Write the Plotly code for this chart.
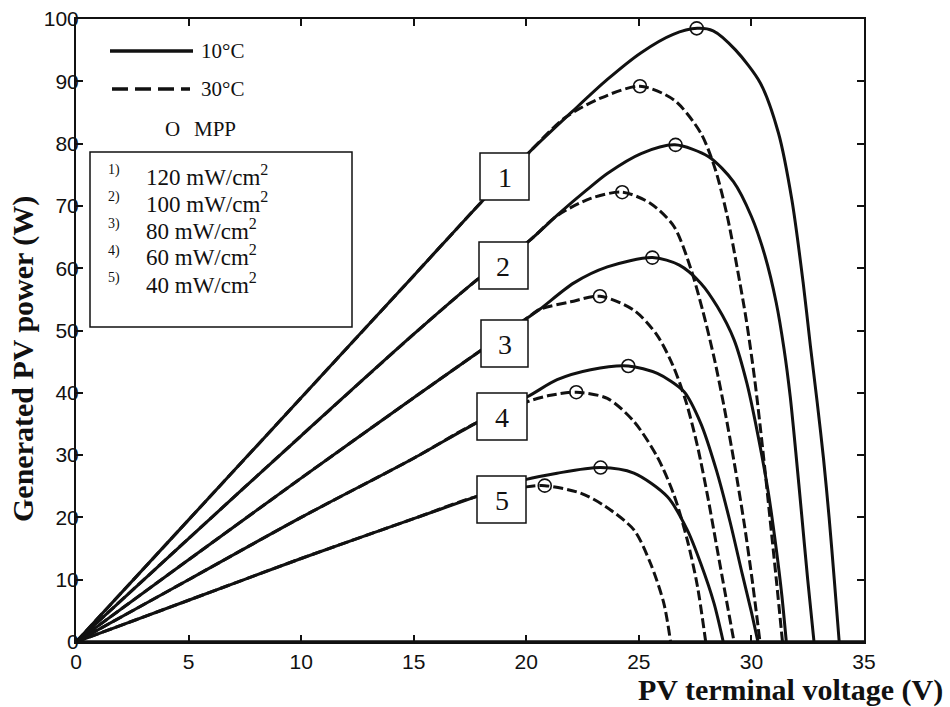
import plotly.graph_objects as go

# ---------------- data ----------------
# 10 degC (solid) curves, irradiance 1..5
v10_1 = [0, 5, 10, 15, 18, 20.1, 22.0, 23.6, 25.1, 26.5, 27.6, 28.3, 29.3, 30.4, 31.2, 31.8, 32.3, 32.62, 32.92, 33.2, 33.45, 33.68, 33.9]
p10_1 = [0, 19.6, 39.2, 58.8, 70.6, 78.5, 85.0, 90.3, 94.6, 97.5, 98.5, 98.1, 95.0, 89.7, 81.7, 70.9, 57.6, 47.5, 38.5, 29.5, 20.0, 10.0, 0]
v10_2 = [0, 5, 10, 15, 17.9, 20.1, 21.4, 22.7, 23.6, 25.1, 26.6, 28.1, 29.2, 30.0, 30.6, 31.1, 31.45, 31.72, 31.97, 32.23, 32.5, 32.78]
p10_2 = [0, 16.6, 33.1, 49.4, 58.4, 64.3, 68.6, 72.6, 75.2, 78.4, 79.8, 77.9, 73.9, 68.3, 62.0, 54.5, 47.0, 39.5, 30.5, 20.5, 10.0, 0]
v10_3 = [0, 5, 10, 15, 17.9, 20.04, 20.6, 22.1, 23.6, 25.6, 26.8, 27.75, 28.49, 29.23, 29.8, 30.3, 30.75, 31.1, 31.35, 31.55]
p10_3 = [0, 13.2, 26.3, 39.2, 46.6, 52.0, 53.4, 57.6, 60.2, 61.7, 60.5, 57.6, 53.8, 48.5, 41.5, 33.0, 24.0, 15.0, 7.5, 0]
v10_4 = [0, 5, 10, 15, 17.74, 20.07, 21.37, 22.86, 24.53, 25.82, 27.0, 27.75, 28.45, 29.05, 29.6, 30.0, 30.29]
p10_4 = [0, 10.0, 20.0, 29.5, 35.1, 39.4, 42.1, 43.7, 44.3, 43.1, 40.2, 35.1, 27.5, 19.3, 10.8, 4.8, 0]
v10_5 = [0, 5, 10, 15, 17.74, 20.0, 21.37, 23.3, 24.78, 26.27, 27.15, 27.75, 28.34, 28.75]
p10_5 = [0, 6.7, 13.4, 19.8, 23.3, 26.1, 27.1, 28.0, 27.1, 23.3, 18.0, 12.6, 6.2, 0]

# 30 degC (dashed) curves
v30_1 = [0, 5, 10, 15, 18, 20.1, 21.7, 23.3, 25.05, 26.56, 27.75, 28.4, 28.93, 29.37, 29.78, 30.15, 30.5, 30.82, 31.12, 31.38]
p30_1 = [0, 19.6, 39.2, 58.8, 70.6, 78.5, 84.1, 87.3, 89.2, 87.0, 81.7, 75.8, 68.3, 60.0, 51.5, 42.0, 31.0, 20.0, 9.5, 0]
v30_2 = [0, 5, 10, 15, 17.9, 20.1, 21.4, 22.86, 24.26, 25.52, 26.56, 27.3, 27.85, 28.35, 28.8, 29.25, 29.68, 30.05, 30.38]
p30_2 = [0, 16.6, 33.1, 49.4, 58.4, 64.3, 68.5, 71.2, 72.2, 70.4, 66.7, 60.0, 53.0, 45.5, 37.5, 28.5, 19.0, 9.5, 0]
v30_3 = [0, 5, 10, 15, 17.9, 20.04, 20.6, 21.97, 23.27, 24.8, 25.8, 26.5, 27.1, 27.6, 28.05, 28.45, 28.85, 29.23]
p30_3 = [0, 13.2, 26.3, 39.2, 46.6, 52.0, 53.4, 54.6, 55.5, 53.2, 49.3, 44.5, 38.5, 31.5, 23.5, 15.5, 7.5, 0]
v30_4 = [0, 5, 10, 15, 17.74, 20.07, 21.08, 22.22, 23.6, 24.78, 25.82, 26.56, 27.15, 27.6, 27.97]
p30_4 = [0, 10.0, 20.0, 29.5, 35.1, 38.6, 39.6, 40.1, 39.1, 35.4, 29.7, 23.6, 16.4, 9.0, 0]
v30_5 = [0, 5, 10, 15, 17.74, 20.0, 20.82, 22.41, 23.5, 24.78, 25.52, 26.11, 26.41]
p30_5 = [0, 6.7, 13.4, 19.8, 23.3, 24.9, 25.1, 23.9, 21.8, 18.0, 12.6, 6.2, 0]

# maximum power points
mpp10_v = [27.57, 26.63, 25.6, 24.53, 23.3]
mpp10_p = [98.5, 79.8, 61.7, 44.3, 28.0]
mpp30_v = [25.05, 24.26, 23.27, 22.22, 20.82]
mpp30_p = [89.2, 72.2, 55.5, 40.1, 25.1]

curve_labels = ["1", "2", "3", "4", "5"]
irradiance_labels = ["120 mW/cm<sup>2</sup>", "100 mW/cm<sup>2</sup>", "80 mW/cm<sup>2</sup>",
                     "60 mW/cm<sup>2</sup>", "40 mW/cm<sup>2</sup>"]
temp_labels = ["10°C", "30°C"]

x_ticks = [0, 5, 10, 15, 20, 25, 30, 35]
y_ticks = [0, 10, 20, 30, 40, 50, 60, 70, 80, 90, 100]

# ---------------- figure ----------------
W, H = 950, 707
L, R, T, B = 76, 864, 19, 642  # plot area in pixels


def xp(px):
    return (px - L) / (R - L)


def yp(py):
    return (B - py) / (B - T)


fig = go.Figure()
solid = [(v10_1, p10_1), (v10_2, p10_2), (v10_3, p10_3), (v10_4, p10_4), (v10_5, p10_5)]
dashed = [(v30_1, p30_1), (v30_2, p30_2), (v30_3, p30_3), (v30_4, p30_4), (v30_5, p30_5)]
for v, p in dashed:
    fig.add_trace(go.Scatter(x=v, y=p, mode="lines",
                             line=dict(color="#111", width=3, dash="10px,4px", shape="spline", smoothing=0.8),
                             hoverinfo="skip"))
for v, p in solid:
    fig.add_trace(go.Scatter(x=v, y=p, mode="lines",
                             line=dict(color="#111", width=3, shape="spline", smoothing=0.8),
                             hoverinfo="skip"))
fig.add_trace(go.Scatter(x=mpp10_v + mpp30_v, y=mpp10_p + mpp30_p, mode="markers",
                         marker=dict(symbol="circle-open", size=13, color="#111", line=dict(width=1.6)),
                         hoverinfo="skip"))

shapes = []
annotations = []
serif = "Liberation Serif, Times New Roman, serif"

# thicker bottom axis as in the scan
shapes.append(dict(type="line", xref="paper", yref="paper", x0=0, x1=1, y0=0, y1=0,
                   line=dict(color="#111", width=3.5), layer="above"))

# numbered label boxes on the curves (pixel positions)
box_px = [(480, 529, 153, 200), (479, 528, 242, 289), (481, 528, 320, 367),
          (477, 527, 393, 440), (477, 526, 476, 523)]
for lab, (x0, x1, y0, y1) in zip(curve_labels, box_px):
    shapes.append(dict(type="rect", xref="paper", yref="paper", x0=xp(x0), x1=xp(x1),
                       y0=yp(y1), y1=yp(y0), fillcolor="white", line=dict(color="#111", width=1.5),
                       layer="above"))
    annotations.append(dict(text=lab, xref="paper", yref="paper", x=xp((x0 + x1) / 2),
                            y=yp((y0 + y1) / 2 + 1), showarrow=False,
                            font=dict(family=serif, size=28, color="#111"),
                            xanchor="center", yanchor="middle"))

# legend
shapes.append(dict(type="line", xref="paper", yref="paper", x0=xp(110), x1=xp(193),
                   y0=yp(51), y1=yp(51), line=dict(color="#111", width=3.5), layer="above"))
shapes.append(dict(type="line", xref="paper", yref="paper", x0=xp(112), x1=xp(190),
                   y0=yp(89), y1=yp(89), line=dict(color="#111", width=3.5, dash="16px,7px"),
                   layer="above"))
for txt, py in zip(temp_labels, [51, 89]):
    annotations.append(dict(text=txt, xref="paper", yref="paper", x=xp(199), y=yp(py),
                            showarrow=False, xanchor="left", yanchor="middle",
                            font=dict(family=serif, size=21, color="#111")))
annotations.append(dict(text="O", xref="paper", yref="paper", x=xp(172), y=yp(129),
                        showarrow=False, xanchor="center", yanchor="middle",
                        font=dict(family=serif, size=21, color="#111")))
annotations.append(dict(text="MPP", xref="paper", yref="paper", x=xp(192), y=yp(129),
                        showarrow=False, xanchor="left", yanchor="middle",
                        font=dict(family=serif, size=21, color="#111")))
shapes.append(dict(type="rect", xref="paper", yref="paper", x0=xp(90), x1=xp(352),
                   y0=yp(327), y1=yp(152), fillcolor="white", line=dict(color="#111", width=1.5),
                   layer="above"))
row_y = [175, 202, 229, 256, 283]
for i, (lab, txt) in enumerate(zip(curve_labels, irradiance_labels)):
    annotations.append(dict(text=lab + ")", xref="paper", yref="paper", x=xp(114), y=yp(row_y[i] - 5),
                            showarrow=False, xanchor="center", yanchor="middle",
                            font=dict(family=serif, size=14, color="#111")))
    annotations.append(dict(text=txt, xref="paper", yref="paper", x=xp(144), y=yp(row_y[i]),
                            showarrow=False, xanchor="left", yanchor="middle",
                            font=dict(family=serif, size=23, color="#111")))

# axis titles
annotations.append(dict(text="<b>Generated PV power (W)</b>", xref="paper", yref="paper",
                        x=xp(23), y=yp(359), textangle=-90, showarrow=False,
                        xanchor="center", yanchor="middle",
                        font=dict(family=serif, size=30, color="#111")))
annotations.append(dict(text="<b>PV terminal voltage (V)</b>", xref="paper", yref="paper",
                        x=xp(790), y=yp(690), showarrow=False,
                        xanchor="center", yanchor="middle",
                        font=dict(family=serif, size=30, color="#111")))

axis_common = dict(showline=True, linecolor="#111", linewidth=2, mirror="ticks",
                   ticks="inside", ticklen=7, tickwidth=1.5, tickcolor="#111",
                   showgrid=False, zeroline=False,
                   tickfont=dict(family="Liberation Sans, Arial, sans-serif", size=21, color="#111"))

fig.update_layout(
    width=W, height=H,
    margin=dict(l=L, r=W - R, t=T, b=H - B, autoexpand=False),
    paper_bgcolor="white", plot_bgcolor="white",
    showlegend=False,
    xaxis=dict(range=[0, 35], tickvals=x_ticks, ticktext=[str(t) for t in x_ticks], **axis_common),
    yaxis=dict(range=[0, 100], tickvals=y_ticks, ticktext=[str(t) for t in y_ticks],
               ticklabelstandoff=-9, **axis_common),
    shapes=shapes, annotations=annotations,
)

fig.write_html("out.html", config={"displayModeBar": False})
